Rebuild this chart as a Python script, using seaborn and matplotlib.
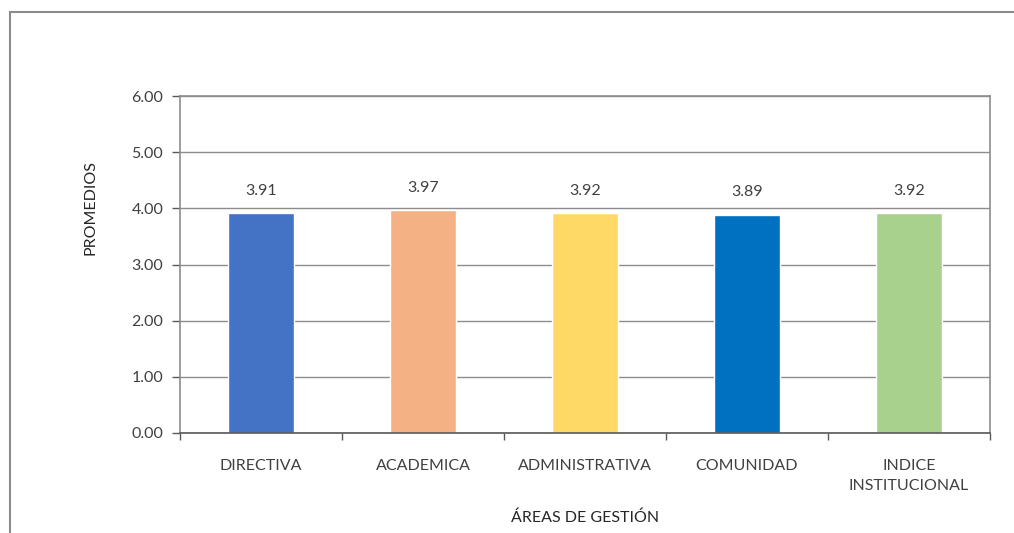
import matplotlib
matplotlib.use("Agg")
import matplotlib.pyplot as plt
import seaborn as sns
import pandas as pd
import numpy as np
from matplotlib.patches import Rectangle

categories = ["DIRECTIVA", "ACADEMICA", "ADMINISTRATIVA", "COMUNIDAD", "INDICE\nINSTITUCIONAL"]
values = [3.91, 3.97, 3.92, 3.89, 3.92]
colors = ["#4472C4", "#F4B183", "#FFD966", "#0070C0", "#A9D18E"]
yticks = [0.0, 1.0, 2.0, 3.0, 4.0, 5.0, 6.0]

sns.set_theme(style="white")
plt.rcParams['font.family'] = ['Lato', 'DejaVu Sans']

df = pd.DataFrame({"cat": categories, "val": values})

fig = plt.figure(figsize=(10.14, 5.33), dpi=100)
ax = fig.add_axes([180/1014, 1-433/533, 810/1014, 337/533])

sns.barplot(data=df, x="cat", y="val", hue="cat", palette=colors, legend=False,
            width=0.41, ax=ax, saturation=1)

ax.set_ylim(0, 6)
ax.set_xlim(-0.5, 4.5)
ax.set_yticks(yticks)
ax.set_yticklabels([f"{v:.2f}" for v in yticks])
ax.yaxis.grid(True, color="#8C8C8C", linewidth=1)
ax.set_axisbelow(True)

for s in ["left", "right", "top"]:
    ax.spines[s].set_visible(True)
    ax.spines[s].set_color("#8C8C8C")
    ax.spines[s].set_linewidth(1.2)
ax.spines["bottom"].set_color("#595959")
ax.spines["bottom"].set_linewidth(1.2)

fs = 11.5
ax.tick_params(axis="y", which="major", length=6, width=1, color="#595959",
               labelsize=fs, labelcolor="#404040", left=True, pad=6)
ax.tick_params(axis="x", which="major", length=0, labelsize=fs, labelcolor="#404040", pad=19)
ax.set_xticks(np.arange(-0.5, 5, 1.0), minor=True)
ax.tick_params(axis="x", which="minor", length=5, width=1, color="#595959", bottom=True)

for lbl in ax.get_xticklabels():
    lbl.set_linespacing(1.55)

for i, v in enumerate(values):
    ax.annotate(f"{v:.2f}", (i, v), xytext=(0, 16), textcoords="offset points",
                ha="center", va="center", fontsize=fs, color="#404040")

ax.set_xlabel("ÁREAS DE GESTIÓN", fontsize=fs, color="#262626")
ax.xaxis.set_label_coords(0.5, (433 - 518) / 337)
ax.xaxis.label.set_va("center")
ax.set_ylabel("PROMEDIOS", fontsize=fs, color="#262626")
ax.yaxis.set_label_coords((90 - 180) / 810, (433 - 208) / 337)
ax.yaxis.label.set_va("center")

# outer chart frame
frame = Rectangle((10/1014, -0.2), 1.2, 1.2 - 12/533, transform=fig.transFigure,
                  fill=False, edgecolor="#8C8C8C", linewidth=1.5, clip_on=False)
fig.patches.append(frame)

fig.savefig("out.png", dpi=100, facecolor="white")
